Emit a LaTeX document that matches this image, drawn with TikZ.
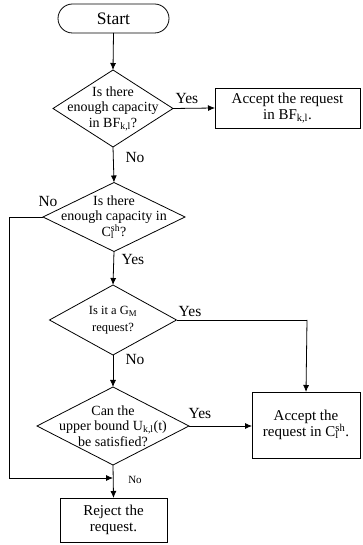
\documentclass[tikz,border=0pt]{standalone}
\usepackage{fontspec}
\setmainfont{Liberation Serif}
\usetikzlibrary{arrows.meta,shapes.geometric,shapes.misc}
\newcommand\mysubsup[2]{\makebox[0pt][l]{\textsubscript{#1}}\textsuperscript{#2}}
\begin{document}
\begin{tikzpicture}[x=1pt,y=1pt,
  every node/.style={inner sep=0pt, outer sep=0pt},
  arr/.style={-{Latex[length=7pt,width=6pt]}, line width=0.8pt},
  ln/.style={line width=0.8pt},
  dec/.style={diamond, draw, line width=0.8pt, aspect=1.6},
  box/.style={rectangle, draw, line width=0.8pt, align=center},
  dtext/.style={align=center, font=\fontsize{14}{15.5}\selectfont},
  lbl/.style={font=\fontsize{15.5}{16}\selectfont}]
\useasboundingbox (0,0) rectangle (362,545);
\node[rounded rectangle, draw, line width=0.8pt, minimum width=111pt, minimum height=29pt, font=\fontsize{17.5}{18}\selectfont] (start) at (113.5,526.5) {Start};
\node[dec, minimum width=120pt, minimum height=77pt] (d1) at (113,436.5) {};
\node[dtext] at (d1) {Is there\\enough capacity\\in BF\textsubscript{k,l}?};
\node[box, minimum width=145pt, minimum height=40pt, font=\fontsize{15}{16}\selectfont] (b1) at (287.5,437) {Accept the request\\in BF\textsubscript{k,l}.};
\node[dec, minimum width=142pt, minimum height=69pt] (d2) at (114,328) {};
\node[dtext] at (d2) {Is there\\enough capacity in\\C\mysubsup{l}{sh}?};
\node[dec, minimum width=127pt, minimum height=70pt] (d3) at (113,225) {};
\node[dtext, font=\fontsize{12.5}{17}\selectfont] at (d3) {Is it a G\textsubscript{M}\\request?};
\node[dec, minimum width=152pt, minimum height=78pt] (d4) at (113,119) {};
\node[dtext] at (d4) {Can the\\upper bound U\textsubscript{k,l}(t)\\be satisfied?};
\node[box, minimum width=108pt, minimum height=66pt, font=\fontsize{15}{16}\selectfont] (b2) at (306,120) {Accept the\\request in C\mysubsup{l}{sh}.};
\node[box, minimum width=107pt, minimum height=44pt, font=\fontsize{15}{16}\selectfont] (rej) at (113.5,25) {Reject the\\request.};
\coordinate (c1) at (9,328);
\coordinate (c2) at (9,67);
\coordinate (c3) at (113,67);
\coordinate (c4) at (307,225);
\draw[arr] (start.south) -- (d1.north);
\draw[arr] (d1.east) -- (b1.west);
\draw[arr] (d1.south) -- (d2.north);
\draw[arr] (d2.south) -- (d3.north);
\draw[arr] (d3.south) -- (d4.north);
\draw[arr] (d4.east) -- (d4.east -| b2.west);
\draw[ln] (d3.east) -- (c4);
\draw[arr] (c4) -- (b2.north);
\draw[ln] (d2.west) -- (c1) -- (c2);
\draw[arr] (c2) -- (c3);
\draw[arr] (d4.south) -- (rej.north);
\node[lbl] (y1) at (187,446) {Yes};
\node[lbl] (n1) at (135,387) {No};
\node[lbl] (n2) at (48,343) {No};
\node[lbl] (y2) at (133,285) {Yes};
\node[lbl] (y3) at (190,233) {Yes};
\node[lbl] (n3) at (135,185) {No};
\node[lbl] (y4) at (200,131) {Yes};
\node[font=\fontsize{11}{12}\selectfont] (n4) at (135,65) {No};
\end{tikzpicture}
\end{document}
